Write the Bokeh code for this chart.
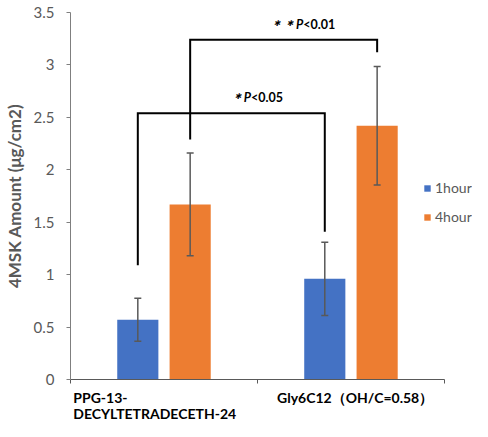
import numpy as np
from bokeh.plotting import figure
from bokeh.layouts import column
from bokeh.models import (ColumnDataSource, Range1d, FixedTicker, Whisker, TeeHead,
                          Legend, LegendItem)
from bokeh.core.properties import value
from bokeh.embed import file_html
from bokeh.resources import INLINE

# data
categories = ["PPG-13-\nDECYLTETRADECETH-24", "Gly6C12（OH/C=0.58）"]
series = ["1hour", "4hour"]
amount_1h = [0.57, 0.96]
amount_4h = [1.67, 2.42]
err_1h = [0.205, 0.35]
err_4h = [0.49, 0.565]
colors = ["#4472C4", "#ED7D31"]

# significance brackets (1hour vs 1hour, 4hour vs 4hour)
bracket_series = ["1hour", "4hour"]
bracket_top = [2.54, 3.24]
bracket_left_end = [1.09, 2.29]
bracket_right_end = [1.41, 3.12]
bracket_stars = ["＊", "＊＊"]
bracket_p = ["<0.05", "<0.01"]

y_ticks = [0, 0.5, 1, 1.5, 2, 2.5, 3, 3.5]

FONT = "Lato"
GRAY = "#595959"
offsets = {"1hour": -0.14, "4hour": 0.14}
bar_width = 0.22
n = len(categories)

p = figure(width=472, height=388, x_range=Range1d(0, 2.15), y_range=Range1d(0, 3.5),
           output_backend="svg", toolbar_location=None,
           min_border_left=66, min_border_right=0, min_border_top=12, min_border_bottom=9)
p.outline_line_color = None
p.grid.visible = False

centers = np.arange(n) + 0.5
renderers = []
for name, vals, errs, col in zip(series, [amount_1h, amount_4h], [err_1h, err_4h], colors):
    vals = np.array(vals)
    errs = np.array(errs)
    src = ColumnDataSource(dict(x=centers + offsets[name], top=vals,
                                upper=vals + errs, lower=vals - errs))
    r = p.vbar(x="x", top="top", width=bar_width, source=src, fill_color=col, line_color=None)
    renderers.append(r)
    head = dict(size=7, line_color=GRAY, line_width=1.5)
    p.add_layout(Whisker(base="x", upper="upper", lower="lower", source=src, level="overlay",
                         line_color=GRAY, line_width=1.5,
                         upper_head=TeeHead(**head), lower_head=TeeHead(**head)))

# brackets
xs, ys, tx, ty = [], [], [], []
for s, top, le, re in zip(bracket_series, bracket_top, bracket_left_end, bracket_right_end):
    lx = centers[0] + offsets[s]
    rx = centers[1] + offsets[s]
    xs.append([lx, lx, rx, rx])
    ys.append([le, top, top, re])
    tx.append((lx + rx) / 2 + 0.105)
    ty.append(top + 0.15)
p.multi_line(xs=xs, ys=ys, line_color="black", line_width=2, line_join="miter")
tsrc = ColumnDataSource(dict(x=tx, y=ty, star=[s + "P" for s in bracket_stars], pv=bracket_p))
p.text(x="x", y="y", text="star", source=tsrc, text_align="right", text_baseline="middle",
       text_font=value(FONT), text_font_size="12.5px", text_font_style="bold italic", text_color="black")
p.text(x="x", y="y", text="pv", source=tsrc, text_align="left", text_baseline="middle",
       text_font=value(FONT), text_font_size="12.5px", text_font_style="bold", text_color="black")

# axes
p.yaxis.ticker = FixedTicker(ticks=y_ticks)
p.yaxis.major_label_overrides = {t: f"{t:g}" for t in y_ticks}
p.yaxis.axis_label = "4MSK Amount (μg/cm2)"
p.yaxis.axis_label_text_font = FONT
p.yaxis.axis_label_text_font_size = "17px"
p.yaxis.axis_label_text_font_style = "bold"
p.yaxis.axis_label_text_color = GRAY
p.yaxis.axis_label_standoff = 6
p.yaxis.axis_line_color = "#7f7f7f"
p.yaxis.major_tick_line_color = "#7f7f7f"
p.yaxis.major_label_text_font = FONT
p.yaxis.major_label_text_font_size = "15px"
p.yaxis.major_label_text_color = GRAY
p.yaxis.major_label_standoff = 12

bounds = list(range(n + 1))
p.xaxis.ticker = FixedTicker(ticks=bounds)
p.xaxis.bounds = (0, n)
p.xaxis.major_label_overrides = {b: "" for b in bounds}
p.xaxis.major_label_standoff = 0
p.xaxis.axis_line_color = GRAY
p.xaxis.major_tick_line_color = GRAY

for ax in (p.xaxis, p.yaxis):
    ax.major_tick_in = 0
    ax.major_tick_out = 4
    ax.minor_tick_line_color = None

legend = Legend(items=[LegendItem(label=s, renderers=[r]) for s, r in zip(series, renderers)],
                location=(353, 153), glyph_width=8, glyph_height=8, label_standoff=4,
                label_height=19, spacing=10, padding=0, margin=0,
                label_text_font=FONT, label_text_font_size="14px", label_text_color=GRAY,
                border_line_color=None, background_fill_alpha=0)
p.add_layout(legend)

# category labels in a strip below the chart, sharing the x range
lab = figure(width=472, height=33, x_range=p.x_range, y_range=Range1d(0, 1),
             output_backend="svg", toolbar_location=None,
             min_border_left=66, min_border_right=0, min_border_top=0, min_border_bottom=0)
lab.axis.visible = False
lab.grid.visible = False
lab.outline_line_color = None
label_shift = [0.015, 0.105]
lsrc = ColumnDataSource(dict(x=np.arange(n) + np.array(label_shift), y=[1] * n, text=categories))
lab.text(x="x", y="y", text="text", source=lsrc, text_align="left", text_baseline="top",
         text_font=value(FONT), text_font_size="14px", text_font_style="bold",
         text_color="black", text_line_height=0.95)

open("out.html", "w").write(file_html(column(p, lab), INLINE))
